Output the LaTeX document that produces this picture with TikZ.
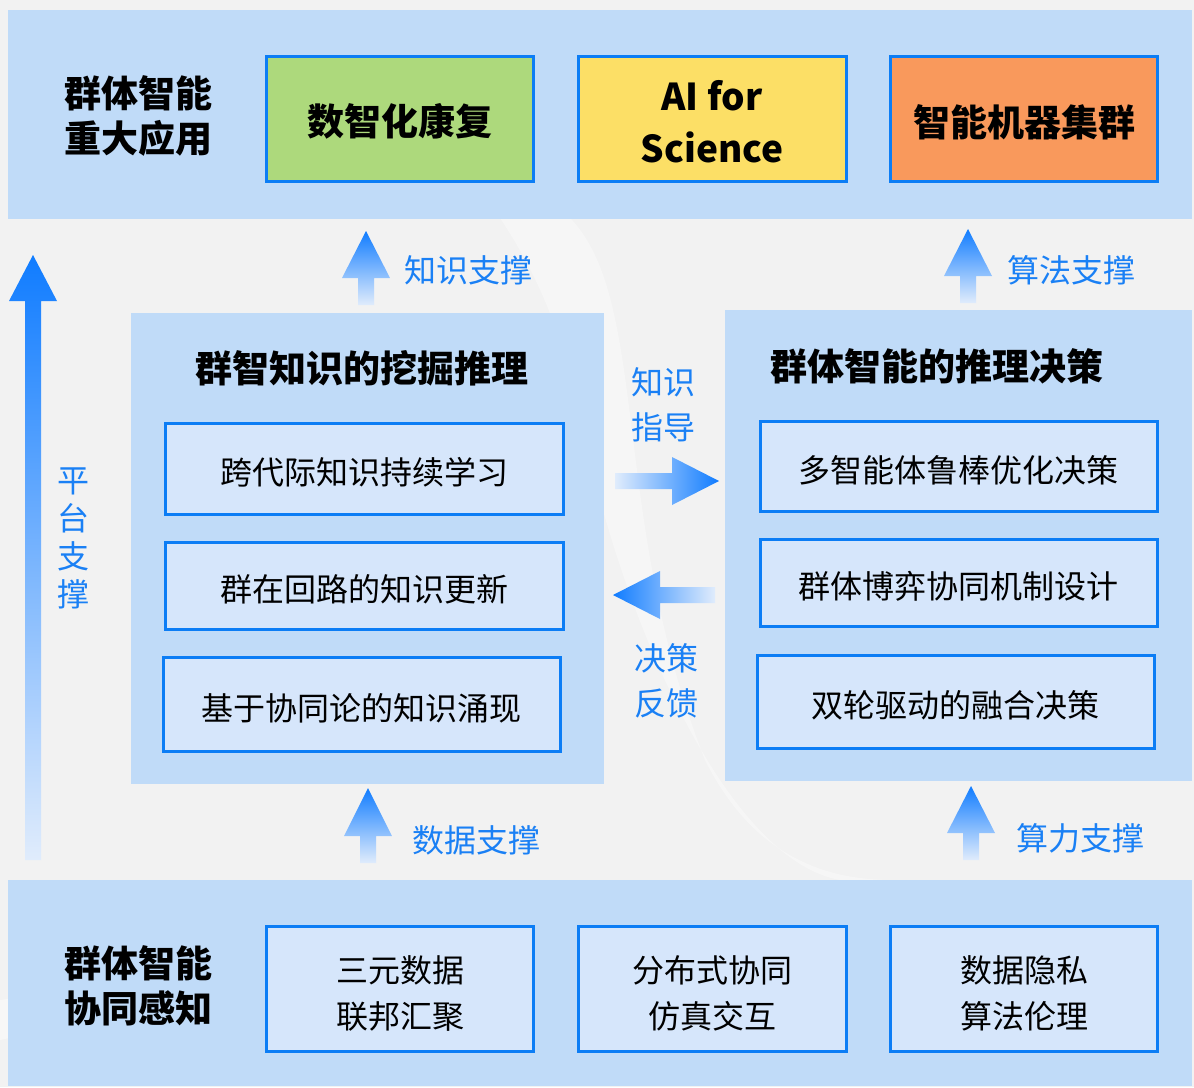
\documentclass[tikz,border=0pt]{standalone}
\usepackage{fontspec}
\setmainfont{Noto Sans CJK SC}
\definecolor{panel}{RGB}{192,219,248}
\definecolor{inner}{RGB}{214,230,251}
\definecolor{edge}{RGB}{12,125,245}
\definecolor{lbl}{RGB}{26,128,245}
\definecolor{bg}{RGB}{242,242,242}
\definecolor{gfill}{RGB}{173,217,124}
\definecolor{yfill}{RGB}{252,223,102}
\definecolor{ofill}{RGB}{249,153,92}
\definecolor{arrdark}{RGB}{16,124,255}
\definecolor{arrlight}{RGB}{224,236,252}
\tikzset{
  panelbox/.style={fill=panel, draw=none},
  subbox/.style={draw=edge, line width=3pt, fill=inner, inner sep=0pt},
  appbox/.style={draw=edge, line width=3pt, inner sep=0pt},
  subtext/.style={font=\fontsize{32}{46}\selectfont, align=center, text=black, inner sep=0pt, yshift=-4pt},
  apptext/.style={font=\fontsize{37}{52}\selectfont\bfseries, align=center, text=black, inner sep=0pt, yshift=-3pt},
  headtext/.style={font=\fontsize{37}{45}\selectfont\bfseries, align=center, text=black, inner sep=0pt},
  bluetext/.style={font=\fontsize{32}{45}\selectfont, align=center, text=lbl, inner sep=0pt},
}
\newcommand{\upblock}[4]{% x, ytip, ybase, ybottom
  \shade[top color=arrdark, bottom color=arrlight]
    (#1,#2) -- (#1+24,#3) -- (#1+8,#3) -- (#1+8,#4) -- (#1-8,#4) -- (#1-8,#3) -- (#1-24,#3) -- cycle;}
\begin{document}
\begin{tikzpicture}[x=1pt,y=-1pt]
\useasboundingbox (0,0) rectangle (1194,1087);
\fill[bg] (0,0) rectangle (1194,1087);
% faint background swooshes
\fill[white, opacity=0.35] (570,218) .. controls (650,300) and (610,520) .. (705,760) .. controls (765,880) and (860,880) .. (900,880) -- (840,880) .. controls (730,860) and (635,640) .. (595,480) .. controls (575,380) and (555,300) .. (500,218) -- cycle;
\fill[white, opacity=0.4] (0,1040) .. controls (200,1000) and (380,900) .. (480,880) -- (420,880) .. controls (300,900) and (150,980) .. (0,1000) -- cycle;

% ---------- top band ----------
\fill[panelbox] (8,10) rectangle (1192,219);
\node[headtext] (toplbl) at (138,116) {群体智能\\重大应用};
\node[appbox, fill=gfill, minimum width=267pt, minimum height=125pt] (app1) at (400,118.5) {};
\node[apptext] (app1t) at (app1.center) {数智化康复};
\node[appbox, fill=yfill, minimum width=268pt, minimum height=125pt] (app2) at (712,118.5) {};
\node[apptext] (app2t) at (app2.center) {AI for\\Science};
\node[appbox, fill=ofill, minimum width=267pt, minimum height=125pt] (app3) at (1024,119) {};
\node[apptext] (app3t) at (app3.center) {智能机器集群};

% ---------- bottom band ----------
\fill[panelbox] (8,880) rectangle (1192,1086);
\node[headtext] (botlbl) at (138,986) {群体智能\\协同感知};
\node[subbox, minimum width=267pt, minimum height=125pt] (b1) at (400,989) {};
\node[subtext] (b1t) at (b1.center) {三元数据\\联邦汇聚};
\node[subbox, minimum width=268pt, minimum height=125pt] (b2) at (712,989) {};
\node[subtext] (b2t) at (b2.center) {分布式协同\\仿真交互};
\node[subbox, minimum width=267pt, minimum height=125pt] (b3) at (1024,989) {};
\node[subtext] (b3t) at (b3.center) {数据隐私\\算法伦理};

% ---------- left panel ----------
\fill[panelbox] (131,313) rectangle (604,784);
\node[headtext] (ltitle) at (362,368) {群智知识的挖掘推理};
\node[subbox, minimum width=398pt, minimum height=91pt] (l1) at (364,468.5) {};
\node[subtext] (l1t) at (l1.center) {跨代际知识持续学习};
\node[subbox, minimum width=398pt, minimum height=87pt] (l2) at (364,585.5) {};
\node[subtext] (l2t) at (l2.center) {群在回路的知识更新};
\node[subbox, minimum width=397pt, minimum height=94pt] (l3) at (361.5,704) {};
\node[subtext] (l3t) at (l3.center) {基于协同论的知识涌现};

% ---------- right panel ----------
\fill[panelbox] (725,310) rectangle (1192,781);
\node[headtext] (rtitle) at (937,366) {群体智能的推理决策};
\node[subbox, minimum width=397pt, minimum height=90pt] (r1) at (958.5,466) {};
\node[subtext] (r1t) at (r1.center) {多智能体鲁棒优化决策};
\node[subbox, minimum width=397pt, minimum height=87pt] (r2) at (958.5,582.5) {};
\node[subtext] (r2t) at (r2.center) {群体博弈协同机制设计};
\node[subbox, minimum width=397pt, minimum height=93pt] (r3) at (955.5,701.5) {};
\node[subtext] (r3t) at (r3.center) {双轮驱动的融合决策};

% ---------- middle arrows ----------
\shade[left color=arrlight, right color=arrdark]
  (615,473) -- (672,473) -- (672,457) -- (719,481) -- (672,505) -- (672,489) -- (615,489) -- cycle;
\shade[left color=arrdark, right color=arrlight]
  (613,595) -- (660,571) -- (660,587) -- (715,587) -- (715,603) -- (660,603) -- (660,619) -- cycle;
\node[bluetext] (guide) at (663,405) {知识\\指导};
\node[bluetext] (feed) at (666,681) {决策\\反馈};

% ---------- up arrows ----------
\upblock{366}{231}{278}{305}
\node[bluetext, anchor=west] (s1) at (404,270) {知识支撑};
\upblock{968}{229}{276}{303}
\node[bluetext, anchor=west] (s2) at (1007,270) {算法支撑};
\upblock{368}{788}{836}{863}
\node[bluetext, anchor=west] (s3) at (412,840) {数据支撑};
\upblock{971}{786}{833}{860}
\node[bluetext, anchor=west] (s4) at (1016,838) {算力支撑};

% ---------- platform arrow ----------
\shade[top color=arrdark, bottom color=arrlight]
  (33,255) -- (57,301) -- (41,301) -- (41,860) -- (25,860) -- (25,301) -- (9,301) -- cycle;
\node[font=\fontsize{32}{38}\selectfont, text=lbl, align=center, inner sep=0pt] (plat) at (73,538) {平\\台\\支\\撑};
\end{tikzpicture}
\end{document}
